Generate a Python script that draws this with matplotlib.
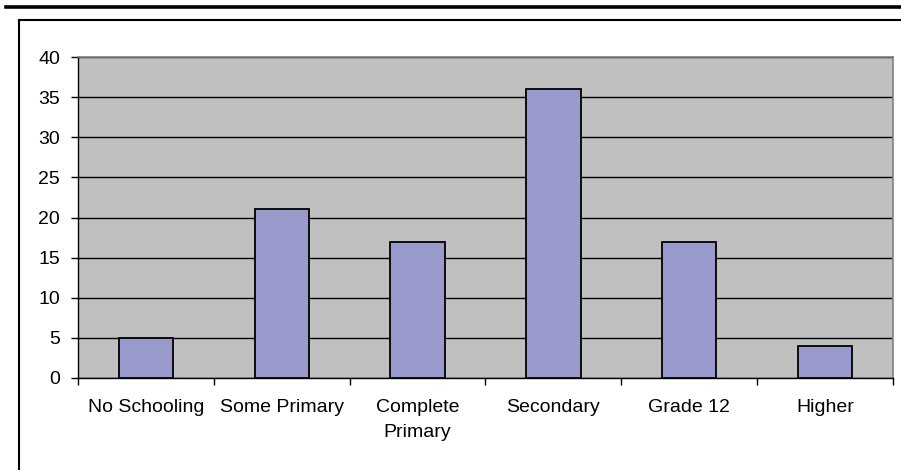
import matplotlib
matplotlib.use("Agg")
import matplotlib.pyplot as plt
from matplotlib.lines import Line2D

plt.rcParams['font.family'] = ['Liberation Sans', 'DejaVu Sans']

categories = ["No Schooling", "Some Primary", "Complete\nPrimary", "Secondary", "Grade 12", "Higher"]
values = [5, 21, 17, 36, 17, 4]
yticks = [0, 5, 10, 15, 20, 25, 30, 35, 40]

W, H = 901, 470
fig = plt.figure(figsize=(W / 100, H / 100), dpi=100)

# plot area in pixel terms
left, right, top, bottom = 78, 893, 57, 378
ax = fig.add_axes([left / W, (H - bottom) / H, (right - left) / W, (bottom - top) / H])
ax.set_facecolor("#c0c0c0")

x = list(range(len(categories)))
ax.bar(x, values, width=0.4, color="#9999cc", edgecolor="black", linewidth=1.3, zorder=3)

ax.set_xlim(-0.5, len(categories) - 0.5)
ax.set_ylim(0, 40)
ax.set_yticks(yticks)
ax.set_yticklabels([str(v) for v in yticks], fontsize=14)
ax.yaxis.grid(True, color="black", linewidth=1.0, zorder=1)
ax.set_axisbelow(True)

# category labels centred, tick marks at the boundaries
ax.set_xticks(x)
ax.set_xticklabels(categories, fontsize=14, linespacing=1.6)
ax.tick_params(axis="x", length=0, pad=15)
ax.set_xticks([i - 0.5 for i in range(len(categories) + 1)], minor=True)
ax.tick_params(axis="x", which="minor", length=5, width=1, color="black", direction="out")
ax.tick_params(axis="y", length=5, width=1, color="black", direction="out", pad=8)

for side in ["top", "right"]:
    ax.spines[side].set_color("#808080")
    ax.spines[side].set_linewidth(1.2)
ax.spines["left"].set_color("black")
ax.spines["bottom"].set_color("black")
ax.spines["left"].set_linewidth(1.0)
ax.spines["bottom"].set_linewidth(1.0)

# outer chart frame and heavy rule above it
fig.add_artist(Line2D([6 / W, 1.0], [1 - 6.5 / H, 1 - 6.5 / H], color="black", linewidth=2.6))
fig.add_artist(Line2D([18.5 / W, 1.0], [1 - 19.5 / H, 1 - 19.5 / H], color="black", linewidth=1.5))
fig.add_artist(Line2D([18.5 / W, 18.5 / W], [0.0, 1 - 19.5 / H], color="black", linewidth=1.5))

fig.savefig("out.png", dpi=100)
